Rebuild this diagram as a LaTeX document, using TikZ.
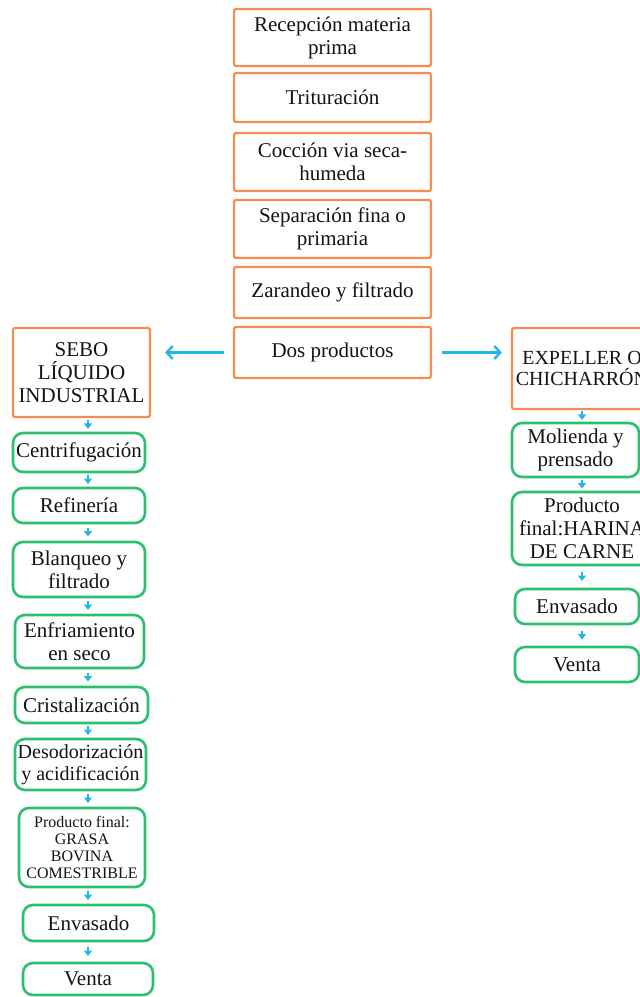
\documentclass[tikz,border=0pt]{standalone}
\usepackage{fontspec}
\setmainfont{Liberation Serif}
\usetikzlibrary{arrows.meta,calc}
\definecolor{boxorange}{RGB}{246,140,82}
\definecolor{boxgreen}{RGB}{44,192,110}
\definecolor{flowcyan}{RGB}{32,182,230}
\definecolor{ink}{RGB}{20,20,20}
\tikzset{
  stage/.style={draw=boxorange, line width=2.2pt, rounded corners=2pt, fill=white,
    align=center, text=ink, inner sep=0pt, font=\fontsize{21}{23}\selectfont},
  task/.style={draw=boxgreen, line width=2.6pt, rounded corners=10pt, fill=white,
    align=center, text=ink, inner sep=0pt, font=\fontsize{21}{23}\selectfont},
  bigflow/.style={draw=flowcyan, line width=2.4pt,
    -{Straight Barb[length=6pt,width=13pt,line width=2.4pt]}},
  smallflow/.style={draw=flowcyan, line width=1.8pt,
    -{Triangle[length=5.5pt,width=8pt]}}
}
\begin{document}
\begin{tikzpicture}[x=1pt,y=-1pt]
\useasboundingbox (0,0) rectangle (640,997);
\clip (0,0) rectangle (640,997);
\fill[white] (0,0) rectangle (640,997);

% main sequence
\node[stage, minimum width=197pt, minimum height=57pt] (r1) at (332.5,37.5) {Recepción materia\\prima};
\node[stage, minimum width=197pt, minimum height=49pt] (r2) at (332.5,97.5) {Trituración};
\node[stage, minimum width=197pt, minimum height=58pt] (r3) at (332.5,162) {Cocción via seca-\\humeda};
\node[stage, minimum width=197pt, minimum height=58pt] (r4) at (332.5,229) {Separación fina o\\primaria};
\node[stage, minimum width=197pt, minimum height=51pt] (r5) at (332.5,292.5) {Zarandeo y filtrado};
\node[stage, minimum width=197pt, minimum height=51pt] (r6) at (332.5,352.5) {Dos productos};

% the two products
\node[stage, minimum width=137pt, minimum height=89pt] (sebo) at (81.5,372.5) {SEBO\\LÍQUIDO\\INDUSTRIAL};
\node[stage, minimum width=140pt, minimum height=81pt, font=\fontsize{20}{20.5}\selectfont] (exp) at (582,368.5) {EXPELLER O\\CHICHARRÓN};

\draw[bigflow, shorten <=9pt, shorten >=14pt] (r6.west) -- (sebo.east |- r6.west);
\draw[bigflow, shorten <=10pt, shorten >=9pt] (r6.east) -- (exp.west |- r6.east);

% tallow line
\node[task, minimum width=132pt, minimum height=39pt] (g1) at (79,452.5) {Centrifugación};
\node[task, minimum width=132pt, minimum height=35pt] (g2) at (79,505.5) {Refinería};
\node[task, minimum width=132pt, minimum height=55pt] (g3) at (79,569.5) {Blanqueo y\\filtrado};
\node[task, minimum width=129pt, minimum height=53pt] (g4) at (79.5,641.5) {Enfriamiento\\en seco};
\node[task, minimum width=133pt, minimum height=36pt] (g5) at (81.5,705) {Cristalización};
\node[task, minimum width=131pt, minimum height=51pt, font=\fontsize{20}{22.5}\selectfont] (g6) at (80.5,764.5) {Desodorización\\y acidificación};
\node[task, minimum width=126pt, minimum height=79pt, font=\fontsize{16}{17}\selectfont] (g7) at (82,847.5) {Producto final:\\GRASA\\BOVINA\\COMESTRIBLE};
\node[task, minimum width=131pt, minimum height=36pt] (g8) at (88.5,923) {Envasado};
\node[task, minimum width=130pt, minimum height=32pt] (g9) at (88,979) {Venta};

% meal line
\node[task, minimum width=127pt, minimum height=54pt] (h1) at (575.5,450) {Molienda y\\prensado};
\node[task, minimum width=140pt, minimum height=73pt] (h2) at (582,528.5) {Producto\\final:HARINA\\DE CARNE};
\node[task, minimum width=124pt, minimum height=35pt] (h3) at (577,606.5) {Envasado};
\node[task, minimum width=124pt, minimum height=35pt] (h4) at (577,664.5) {Venta};

% small connectors, each a short arrow in the middle of the gap
\coordinate (colL) at (88,0);
\coordinate (colR) at (582,0);
\foreach \a/\b in {sebo/g1, g1/g2, g2/g3, g3/g4, g4/g5, g5/g6, g6/g7, g7/g8, g8/g9}
  \draw[smallflow] ($(\a.south -| colL)!.5!(\b.north -| colL)+(0,-5)$) -- ++(0,9);
\foreach \a/\b in {exp/h1, h1/h2, h2/h3, h3/h4}
  \draw[smallflow] ($(\a.south -| colR)!.5!(\b.north -| colR)+(0,-5)$) -- ++(0,9);
\end{tikzpicture}
\end{document}
